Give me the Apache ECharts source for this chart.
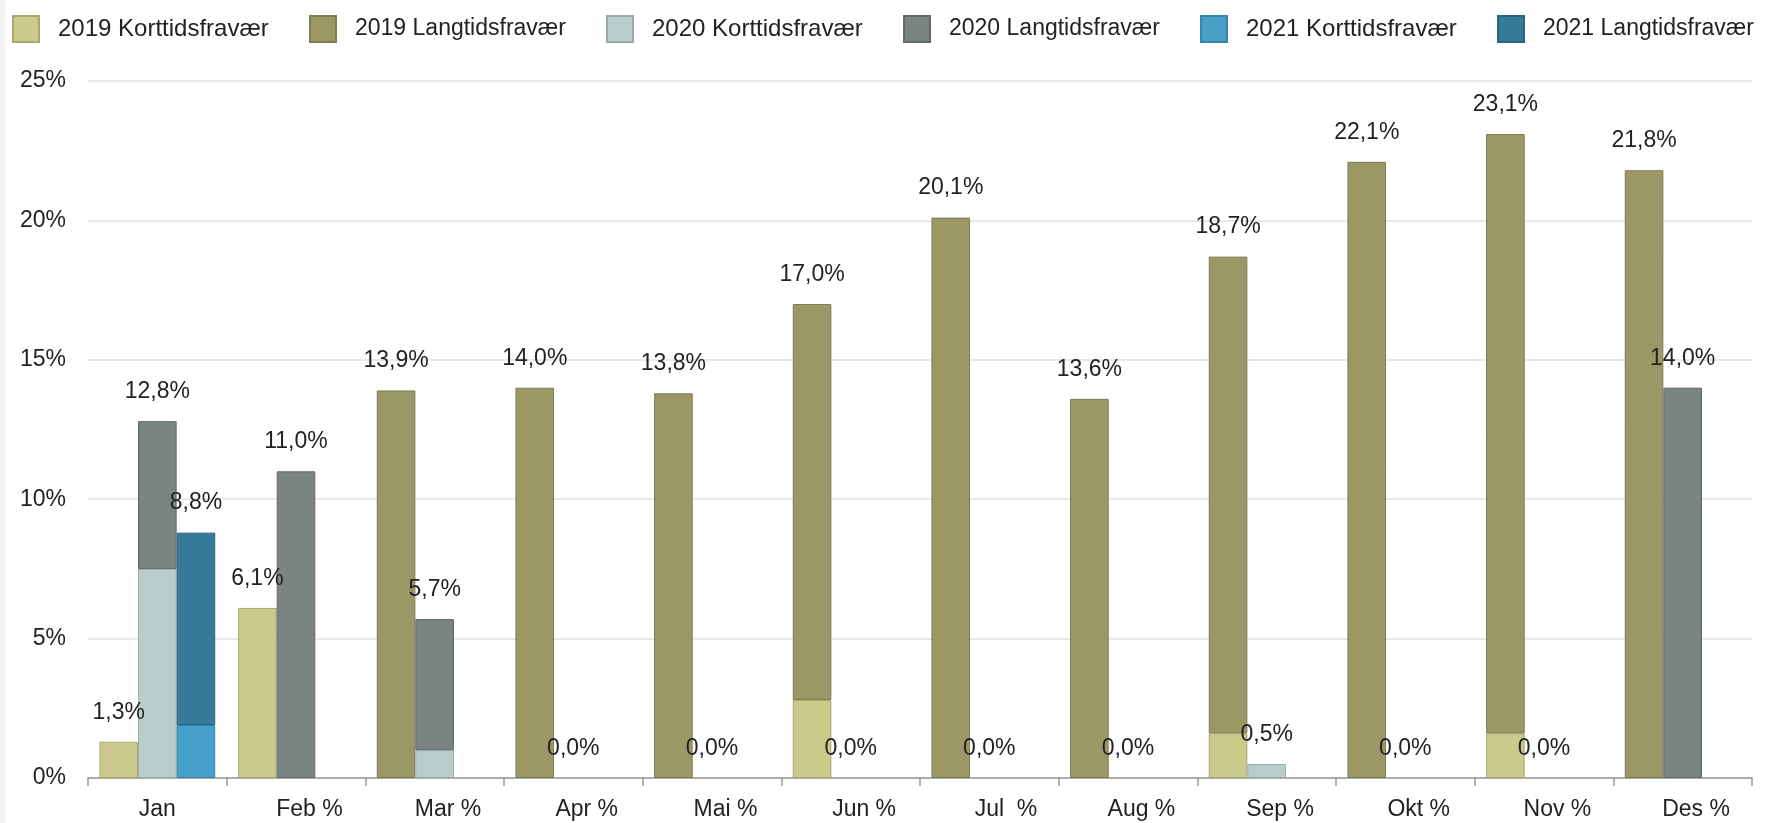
<!DOCTYPE html>
<html>
<head>
<meta charset="utf-8">
<script src="https://cdn.jsdelivr.net/npm/echarts@6/dist/echarts.min.js"></script>
<style>
html,body{margin:0;padding:0;background:#fff;}
#chart{width:1767px;height:823px;}
</style>
</head>
<body>
<div id="chart"></div>
<script>
const categories = ['Jan', 'Feb %', 'Mar %', 'Apr %', 'Mai %', 'Jun %', 'Jul  %', 'Aug %', 'Sep %', 'Okt %', 'Nov %', 'Des %'];
const yTicks = [0, 5, 10, 15, 20, 25];
const legendNames = ['2019 Korttidsfravær', '2019 Langtidsfravær', '2020 Korttidsfravær', '2020 Langtidsfravær', '2021 Korttidsfravær', '2021 Langtidsfravær'];

const kort2019 = [1.3, 6.1, 0, 0, 0, 2.8, 0, 0, 1.6, 0, 1.6, 0];
const lang2019 = [0, 0, 13.9, 14.0, 13.8, 14.2, 20.1, 13.6, 17.1, 22.1, 21.5, 21.8];
const kort2020 = [7.5, 0, 1.0, 0, 0, 0, 0, 0, 0.5, 0, 0, 0];
const lang2020 = [5.3, 11.0, 4.7, 0, 0, 0, 0, 0, 0, 0, 0, 14.0];
const kort2021 = [1.9, null, null, null, null, null, null, null, null, null, null, null];
const lang2021 = [6.9, null, null, null, null, null, null, null, null, null, null, null];

const FONT = '"Liberation Sans", Arial, sans-serif';
const FS = 23;

function fmt(v) { return v.toFixed(1).replace('.', ',') + '%'; }
function items(data) {
  return data.map(function (v) { return v === 0 ? { value: 0, itemStyle: { borderWidth: 0 } } : v; });
}

function kortSeries(name, data, color, border, stack) {
  return {
    name: name, type: 'bar', stack: stack, data: items(data),
    itemStyle: { color: color, borderColor: border, borderWidth: 1 },
    label: { show: false }
  };
}
function langSeries(name, data, kdata, color, border, stack) {
  return {
    name: name, type: 'bar', stack: stack, data: items(data),
    itemStyle: { color: color, borderColor: border, borderWidth: 1 },
    label: {
      show: true, position: 'top', distance: 18,
      fontFamily: FONT, fontSize: FS, color: '#222',
      formatter: function (p) {
        const k = kdata[p.dataIndex] || 0;
        const l = data[p.dataIndex] || 0;
        return fmt(k + l);
      }
    }
  };
}

const legends = legendNames.map(function (n, i) {
  const fs = n.indexOf('Lang') >= 0 ? 23 : 24;
  return {
    left: 12 + i * 297, top: 15, padding: 0,
    itemWidth: 26, itemHeight: 26, icon: 'rect',
    textStyle: { fontFamily: FONT, fontSize: fs, color: '#222', padding: [0, 0, 0, 14] },
    data: [n]
  };
});

const chart = echarts.init(document.getElementById('chart'), null, { renderer: 'canvas' });
chart.setOption({
  animation: false,
  backgroundColor: '#ffffff',
  graphic: [{ type: 'rect', left: 0, top: 0, shape: { width: 5, height: 823 }, style: { fill: '#f2f2f2' }, silent: true }],
  legend: legends,
  grid: { left: 88, right: 15, top: 81, bottom: 45, containLabel: false },
  xAxis: {
    type: 'category', data: categories,
    axisLine: { lineStyle: { color: '#999', width: 1.5 } },
    axisTick: { show: true, length: 8, lineStyle: { color: '#999', width: 1.5 } },
    axisLabel: {
      margin: 20, fontFamily: FONT, fontSize: FS, color: '#222', interval: 0,
      formatter: function (v) {
        const m = v.match(/^(\S+)(\s+)%$/);
        if (m) { return '{h|%}' + m[2] + m[1] + m[2] + '%'; }
        return v;
      },
      rich: { h: { color: 'rgba(0,0,0,0)', fontFamily: FONT, fontSize: FS } }
    }
  },
  yAxis: {
    type: 'value', min: yTicks[0], max: yTicks[yTicks.length - 1], interval: 5,
    axisLine: { show: false }, axisTick: { show: false },
    axisLabel: { margin: 22, fontFamily: FONT, fontSize: FS, color: '#222', formatter: function (v) { return v + '%'; } },
    splitLine: { lineStyle: { color: '#e2e2e2', width: 1.5 } }
  },
  series: [
    kortSeries(legendNames[0], kort2019, '#cbca8b', '#a9a870', 'y2019'),
    langSeries(legendNames[1], lang2019, kort2019, '#9b9866', '#7e7c50', 'y2019'),
    kortSeries(legendNames[2], kort2020, '#bacdcd', '#98acac', 'y2020'),
    langSeries(legendNames[3], lang2020, kort2020, '#7a8583', '#5f6968', 'y2020'),
    kortSeries(legendNames[4], kort2021, '#47a0c9', '#3585a8', 'y2021'),
    langSeries(legendNames[5], lang2021, kort2021, '#357a98', '#2a6480', 'y2021')
  ].map(function (s) { s.barGap = '0%'; s.barCategoryGap = '16.5%'; return s; })
});
</script>
</body>
</html>
